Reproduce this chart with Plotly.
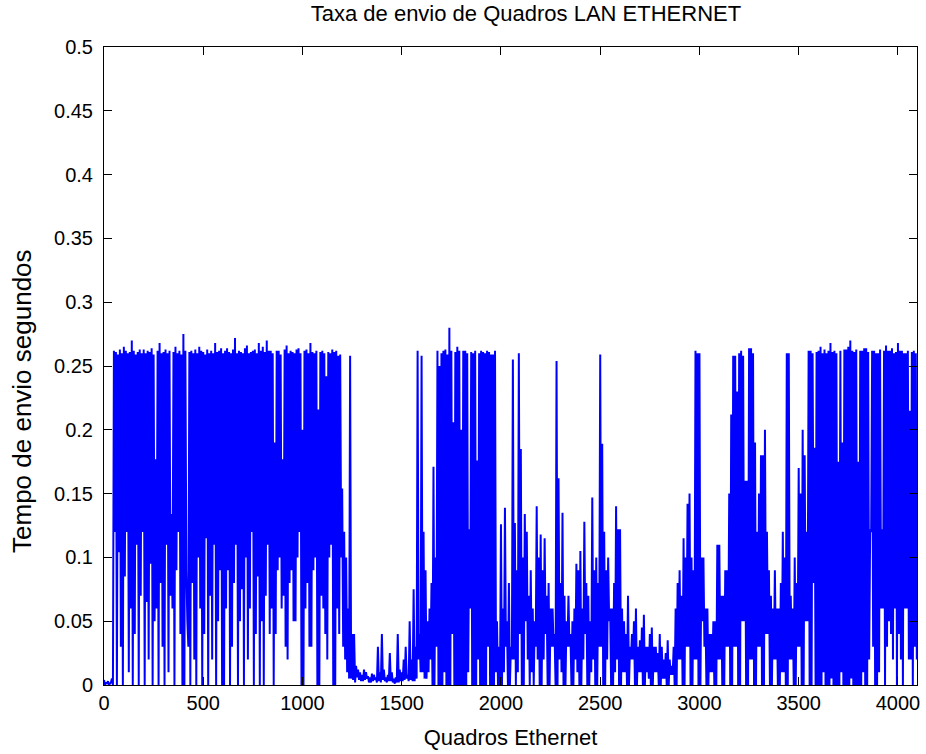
import plotly.graph_objects as go

# Hand-read envelope of the oscillating series: one (peak, trough) pair per 10-frame block
block_start = list(range(0, 4100, 10))

peaks = [
    # 0-200
    0.004, 0.002, 0.003, 0.001, 0.005, 0.262, 0.261, 0.259, 0.263, 0.260, 0.265, 0.262, 0.260, 0.261, 0.270, 0.262, 0.259, 0.261, 0.263, 0.260,
    # 200-400
    0.263, 0.260, 0.262, 0.261, 0.264, 0.259, 0.177, 0.262, 0.268, 0.260, 0.261, 0.263, 0.260, 0.262, 0.134, 0.261, 0.265, 0.260, 0.262, 0.259,
    # 400-600
    0.275, 0.262, 0.050, 0.261, 0.262, 0.260, 0.263, 0.260, 0.265, 0.262, 0.261, 0.259, 0.263, 0.260, 0.262, 0.260, 0.268, 0.261, 0.262, 0.264,
    # 600-800
    0.260, 0.262, 0.264, 0.261, 0.260, 0.263, 0.272, 0.260, 0.262, 0.261, 0.260, 0.264, 0.266, 0.260, 0.261, 0.262, 0.263, 0.260, 0.268, 0.262,
    # 800-1000
    0.265, 0.261, 0.270, 0.262, 0.262, 0.260, 0.190, 0.262, 0.262, 0.259, 0.177, 0.263, 0.266, 0.260, 0.262, 0.261, 0.260, 0.263, 0.264, 0.260,
    # 1000-1200
    0.200, 0.262, 0.263, 0.260, 0.268, 0.261, 0.260, 0.262, 0.216, 0.261, 0.262, 0.260, 0.242, 0.261, 0.260, 0.263, 0.261, 0.262, 0.258, 0.259,
    # 1200-1400
    0.154, 0.120, 0.100, 0.060, 0.258, 0.040, 0.040, 0.015, 0.012, 0.010, 0.008, 0.012, 0.010, 0.007, 0.006, 0.009, 0.008, 0.006, 0.030, 0.010,
    # 1400-1600
    0.040, 0.012, 0.006, 0.008, 0.025, 0.010, 0.005, 0.006, 0.040, 0.012, 0.010, 0.020, 0.030, 0.008, 0.050, 0.020, 0.075, 0.030, 0.262, 0.040,
    # 1600-1800
    0.258, 0.120, 0.090, 0.050, 0.060, 0.080, 0.171, 0.100, 0.262, 0.250, 0.260, 0.262, 0.263, 0.259, 0.280, 0.262, 0.206, 0.261, 0.265, 0.262,
    # 1800-2000
    0.200, 0.262, 0.262, 0.260, 0.122, 0.261, 0.260, 0.262, 0.176, 0.260, 0.262, 0.261, 0.260, 0.262, 0.261, 0.259, 0.259, 0.262, 0.050, 0.030,
    # 2000-2200
    0.126, 0.060, 0.139, 0.050, 0.080, 0.030, 0.255, 0.127, 0.090, 0.260, 0.185, 0.100, 0.134, 0.120, 0.070, 0.090, 0.060, 0.050, 0.140, 0.100,
    # 2200-2400
    0.118, 0.090, 0.115, 0.070, 0.080, 0.060, 0.060, 0.040, 0.254, 0.162, 0.080, 0.135, 0.070, 0.050, 0.070, 0.040, 0.050, 0.060, 0.095, 0.090,
    # 2400-2600
    0.105, 0.060, 0.128, 0.080, 0.070, 0.050, 0.147, 0.090, 0.100, 0.080, 0.259, 0.189, 0.120, 0.090, 0.100, 0.060, 0.060, 0.080, 0.140, 0.122,
    # 2600-2800
    0.122, 0.060, 0.050, 0.040, 0.070, 0.030, 0.040, 0.050, 0.060, 0.030, 0.035, 0.045, 0.055, 0.030, 0.030, 0.040, 0.045, 0.030, 0.030, 0.025,
    # 2800-3000
    0.040, 0.030, 0.020, 0.025, 0.035, 0.020, 0.015, 0.030, 0.060, 0.080, 0.090, 0.070, 0.115, 0.100, 0.142, 0.150, 0.100, 0.090, 0.262, 0.260,
    # 3000-3200
    0.260, 0.100, 0.100, 0.060, 0.060, 0.040, 0.040, 0.050, 0.050, 0.110, 0.110, 0.070, 0.070, 0.090, 0.090, 0.150, 0.212, 0.258, 0.258, 0.230,
    # 3200-3400
    0.260, 0.262, 0.258, 0.160, 0.160, 0.264, 0.264, 0.260, 0.190, 0.120, 0.150, 0.180, 0.180, 0.200, 0.120, 0.090, 0.070, 0.060, 0.090, 0.060,
    # 3400-3600
    0.060, 0.080, 0.120, 0.100, 0.260, 0.260, 0.070, 0.060, 0.100, 0.080, 0.170, 0.150, 0.200, 0.180, 0.120, 0.262, 0.262, 0.260, 0.186, 0.261,
    # 3600-3800
    0.262, 0.265, 0.260, 0.263, 0.260, 0.262, 0.268, 0.261, 0.262, 0.260, 0.175, 0.262, 0.190, 0.263, 0.263, 0.265, 0.270, 0.262, 0.261, 0.263,
    # 3800-4000
    0.175, 0.262, 0.262, 0.264, 0.264, 0.261, 0.122, 0.262, 0.262, 0.260, 0.260, 0.263, 0.122, 0.262, 0.266, 0.262, 0.262, 0.264, 0.260, 0.261,
    # 4000-4100
    0.268, 0.262, 0.262, 0.260, 0.260, 0.262, 0.215, 0.261, 0.262, 0.260,
]

troughs = [
    # 0-200
    0.000, 0.001, 0.000, 0.002, 0.000, 0.120, 0.000, 0.104, 0.030, 0.000, 0.085, 0.120, 0.010, 0.060, 0.000, 0.040, 0.110, 0.000, 0.070, 0.120,
    # 200-400
    0.000, 0.065, 0.020, 0.095, 0.000, 0.050, 0.060, 0.000, 0.080, 0.030, 0.000, 0.110, 0.010, 0.070, 0.060, 0.000, 0.090, 0.120, 0.040, 0.000,
    # 400-600
    0.000, 0.090, 0.030, 0.000, 0.080, 0.020, 0.000, 0.100, 0.060, 0.000, 0.040, 0.115, 0.000, 0.070, 0.020, 0.110, 0.000, 0.050, 0.090, 0.000,
    # 600-800
    0.000, 0.060, 0.090, 0.000, 0.030, 0.080, 0.110, 0.000, 0.050, 0.075, 0.000, 0.100, 0.020, 0.060, 0.120, 0.000, 0.040, 0.085, 0.000, 0.050,
    # 800-1000
    0.000, 0.070, 0.110, 0.040, 0.060, 0.000, 0.040, 0.090, 0.100, 0.060, 0.070, 0.030, 0.020, 0.080, 0.090, 0.050, 0.050, 0.100, 0.120, 0.000,
    # 1000-1200
    0.000, 0.060, 0.080, 0.030, 0.030, 0.090, 0.100, 0.000, 0.000, 0.070, 0.060, 0.040, 0.020, 0.100, 0.110, 0.000, 0.000, 0.060, 0.040, 0.100,
    # 1200-1400
    0.030, 0.020, 0.010, 0.005, 0.005, 0.004, 0.002, 0.006, 0.004, 0.003, 0.003, 0.004, 0.005, 0.002, 0.002, 0.003, 0.004, 0.002, 0.003, 0.002,
    # 1400-1600
    0.004, 0.003, 0.002, 0.003, 0.003, 0.002, 0.001, 0.002, 0.002, 0.003, 0.003, 0.004, 0.005, 0.003, 0.004, 0.003, 0.003, 0.005, 0.020, 0.010,
    # 1600-1800
    0.010, 0.005, 0.005, 0.010, 0.020, 0.000, 0.000, 0.030, 0.000, 0.000, 0.000, 0.010, 0.000, 0.000, 0.000, 0.040, 0.000, 0.000, 0.000, 0.000,
    # 1800-2000
    0.000, 0.000, 0.000, 0.010, 0.060, 0.000, 0.000, 0.000, 0.020, 0.000, 0.000, 0.000, 0.000, 0.030, 0.000, 0.000, 0.000, 0.010, 0.000, 0.000,
    # 2000-2200
    0.000, 0.010, 0.030, 0.000, 0.000, 0.020, 0.020, 0.000, 0.010, 0.040, 0.000, 0.000, 0.050, 0.020, 0.000, 0.010, 0.000, 0.030, 0.020, 0.000,
    # 2200-2400
    0.000, 0.020, 0.040, 0.000, 0.000, 0.030, 0.030, 0.000, 0.000, 0.020, 0.010, 0.000, 0.000, 0.030, 0.030, 0.000, 0.000, 0.020, 0.010, 0.000,
    # 2400-2600
    0.000, 0.020, 0.040, 0.000, 0.000, 0.010, 0.020, 0.000, 0.000, 0.030, 0.030, 0.000, 0.000, 0.020, 0.050, 0.000, 0.000, 0.010, 0.020, 0.000,
    # 2600-2800
    0.000, 0.010, 0.010, 0.000, 0.000, 0.020, 0.020, 0.000, 0.000, 0.010, 0.010, 0.000, 0.000, 0.010, 0.005, 0.000, 0.000, 0.010, 0.010, 0.000,
    # 2800-3000
    0.000, 0.005, 0.005, 0.000, 0.000, 0.008, 0.008, 0.000, 0.000, 0.020, 0.020, 0.000, 0.000, 0.030, 0.030, 0.000, 0.000, 0.020, 0.020, 0.000,
    # 3000-3200
    0.000, 0.050, 0.030, 0.000, 0.000, 0.010, 0.010, 0.000, 0.000, 0.020, 0.020, 0.000, 0.000, 0.030, 0.030, 0.000, 0.000, 0.030, 0.030, 0.000,
    # 3200-3400
    0.000, 0.050, 0.050, 0.000, 0.000, 0.020, 0.020, 0.000, 0.000, 0.030, 0.030, 0.000, 0.000, 0.040, 0.040, 0.000, 0.000, 0.020, 0.020, 0.000,
    # 3400-3600
    0.000, 0.010, 0.010, 0.000, 0.000, 0.020, 0.020, 0.000, 0.000, 0.030, 0.030, 0.000, 0.000, 0.050, 0.050, 0.000, 0.000, 0.080, 0.000, 0.000,
    # 3600-3800
    0.000, 0.000, 0.010, 0.000, 0.000, 0.000, 0.005, 0.000, 0.000, 0.000, 0.000, 0.010, 0.000, 0.000, 0.000, 0.000, 0.005, 0.000, 0.000, 0.000,
    # 3800-4000
    0.000, 0.000, 0.010, 0.000, 0.000, 0.020, 0.120, 0.030, 0.000, 0.000, 0.010, 0.060, 0.060, 0.000, 0.030, 0.050, 0.040, 0.020, 0.060, 0.000,
    # 4000-4100
    0.040, 0.020, 0.000, 0.060, 0.060, 0.020, 0.020, 0.000, 0.030, 0.020,
]

x_ticks = [0, 500, 1000, 1500, 2000, 2500, 3000, 3500, 4000]
x_tick_text = ["0", "500", "1000", "1500", "2000", "2500", "3000", "3500", "4000"]
y_ticks = [0, 0.05, 0.1, 0.15, 0.2, 0.25, 0.3, 0.35, 0.4, 0.45, 0.5]
y_tick_text = ["0", "0.05", "0.1", "0.15", "0.2", "0.25", "0.3", "0.35", "0.4", "0.45", "0.5"]

# interleave peaks and troughs into a single polyline
xs, ys = [], []
for s, p, t in zip(block_start, peaks, troughs):
    xs += [s, s + 5]
    ys += [p, t]

FONT = "Liberation Sans, Arial, Helvetica, sans-serif"

fig = go.Figure()
fig.add_trace(go.Scatter(
    x=xs, y=ys, mode="lines",
    line=dict(color="#0000ff", width=2),
    showlegend=False, hoverinfo="skip",
))

fig.update_layout(
    width=926, height=754,
    margin=dict(l=104, r=9, t=47, b=69),
    paper_bgcolor="white", plot_bgcolor="white",
    font=dict(family=FONT, size=20, color="black"),
    title=dict(text="Taxa de envio de Quadros LAN ETHERNET",
               x=0.519, xref="paper", xanchor="center",
               y=0.983, yref="container", yanchor="middle",
               font=dict(family=FONT, size=22, color="black")),
    annotations=[dict(
        text="Tempo de envio segundos", textangle=-90,
        xref="paper", yref="paper", x=-0.101, y=0.445,
        xanchor="center", yanchor="middle", showarrow=False,
        font=dict(family=FONT, size=26, color="black"),
    )],
)
fig.update_xaxes(
    range=[0, 4096], tickvals=x_ticks, ticktext=x_tick_text,
    ticks="inside", ticklen=8, tickcolor="black", tickwidth=1,
    showline=True, linecolor="black", linewidth=1, mirror="ticks",
    showgrid=False, zeroline=False, automargin=False,
    title=dict(text="Quadros Ethernet", standoff=16, font=dict(family=FONT, size=22)),
    tickfont=dict(family=FONT, size=20),
)
fig.update_yaxes(
    range=[0, 0.5], tickvals=y_ticks, ticktext=y_tick_text,
    ticks="inside", ticklen=8, tickcolor="black", tickwidth=1,
    showline=True, linecolor="black", linewidth=1, mirror="ticks",
    showgrid=False, zeroline=False, automargin=False,
    ticklabelstandoff=6,
    tickfont=dict(family=FONT, size=20),
)

fig.write_html("out.html", config={"displayModeBar": False},
               post_script="document.body.style.margin='0px';")
